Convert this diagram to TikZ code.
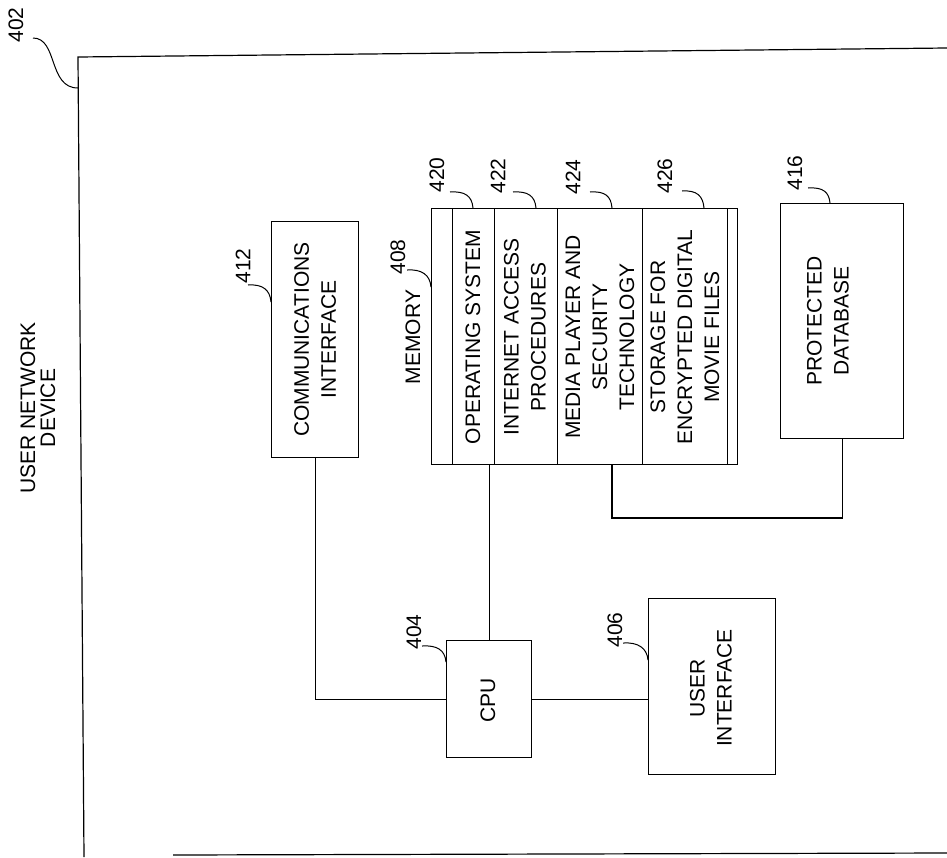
\documentclass[tikz,border=0pt]{standalone}
\usepackage{fontspec}
\setmainfont{Liberation Sans}
\begin{document}
\begin{tikzpicture}[x=1pt,y=-1pt,line width=1.2pt,
  box/.style={draw,inner sep=0pt,anchor=north west},
  txt/.style={rotate=90,align=center,inner sep=0pt,font=\fontsize{21}{27}\selectfont},
  num/.style={rotate=90,inner sep=0pt,font=\fontsize{21}{21}\selectfont},
  lead/.style={line width=1pt}]
\useasboundingbox (0,0) rectangle (947,857);
% outer frame 402
\coordinate (fTL) at (78,57);
\coordinate (fTR) at (947,48);
\coordinate (fBL) at (84,857);
\coordinate (bL) at (173,855);
\coordinate (bR) at (947,853);
\draw (fBL) -- (fTL) -- (fTR);
\draw (bL) -- (bR);
\node[txt,font=\fontsize{21}{20}\selectfont] (title) at (38,408) {USER NETWORK\\DEVICE};
% boxes
\node[box,minimum width=87pt,minimum height=236pt] (comm) at (271,221) {};
\node[box,minimum width=306pt,minimum height=256pt] (mem) at (431,208) {};
\node[box,minimum width=21pt,minimum height=256pt] (c0) at (431,208) {};
\node[box,minimum width=42pt,minimum height=256pt] (os) at (452,208) {};
\node[box,minimum width=63pt,minimum height=256pt] (ia) at (494,208) {};
\node[box,minimum width=85pt,minimum height=256pt] (mp) at (557,208) {};
\node[box,minimum width=85pt,minimum height=256pt] (st) at (642,208) {};
\node[box,minimum width=10pt,minimum height=256pt] (c5) at (727,208) {};
\node[box,minimum width=123pt,minimum height=235pt] (pd) at (780,203) {};
\node[box,minimum width=85pt,minimum height=117pt] (cpu) at (446,640) {};
\node[box,minimum width=127pt,minimum height=176pt] (ui) at (648,598) {};
% texts
\node[txt] (commT) at (comm.center) {COMMUNICATIONS\\INTERFACE};
\node[txt] (memT) at (413,337) {MEMORY};
\node[txt] (osT) at (473,337) {OPERATING SYSTEM};
\node[txt] (iaT) at (525,337) {INTERNET ACCESS\\PROCEDURES};
\node[txt] (mpT) at (600,337) {MEDIA PLAYER AND\\SECURITY\\TECHNOLOGY};
\node[txt] (stT) at (685,337) {STORAGE FOR\\ENCRYPTED DIGITAL\\MOVIE FILES};
\node[txt] (pdT) at (828,321) {PROTECTED\\DATABASE};
\node[txt] (cpuT) at (488,700) {CPU};
\node[txt] (uiT) at (711,688) {USER\\INTERFACE};
% reference numbers
\node[num] (n402) at (16,25) {402};
\node[num] (n412) at (243,266) {412};
\node[num] (n408) at (398,257) {408};
\node[num] (n420) at (437,175) {420};
\node[num] (n422) at (498,176) {422};
\node[num] (n424) at (573,177) {424};
\node[num] (n426) at (665,176) {426};
\node[num] (n416) at (795,173) {416};
\node[num] (n404) at (414,632) {404};
\node[num] (n406) at (615,630) {406};
% leader lines
\coordinate (s402) at (33,38);  \coordinate (e402) at (78,88);
\coordinate (s412) at (248,285); \coordinate (e412) at (271,302);
\coordinate (s408) at (407,270); \coordinate (e408) at (431,287);
\coordinate (s420) at (450,192); \coordinate (e420) at (473,208);
\coordinate (s422) at (513,192); \coordinate (e422) at (536,208);
\coordinate (s424) at (590,192); \coordinate (e424) at (612,208);
\coordinate (s426) at (682,191); \coordinate (e426) at (704,208);
\coordinate (s416) at (808,188); \coordinate (e416) at (830,203);
\coordinate (s404) at (422,646); \coordinate (e404) at (446,662);
\coordinate (s406) at (623,643); \coordinate (e406) at (648,660);
\draw[lead] (s402) .. controls (58,38) and (48,88) .. (e402);
\draw[lead] (s412) .. controls (263,284) and (270,290) .. (e412);
\draw[lead] (s408) .. controls (422,269) and (430,275) .. (e408);
\draw[lead] (s420) .. controls (465,191) and (472,196) .. (e420);
\draw[lead] (s422) .. controls (528,191) and (535,196) .. (e422);
\draw[lead] (s424) .. controls (605,191) and (611,196) .. (e424);
\draw[lead] (s426) .. controls (697,190) and (703,196) .. (e426);
\draw[lead] (s416) .. controls (823,187) and (829,192) .. (e416);
\draw[lead] (s404) .. controls (437,645) and (445,650) .. (e404);
\draw[lead] (s406) .. controls (638,642) and (647,648) .. (e406);
% connectors
\coordinate (j) at (612,518);
\draw (comm.south) |- (cpu.west);
\draw (mem.south -| cpu.north) -- (cpu.north);
\draw (cpu.east) -- (cpu.east -| ui.west);
\draw (mem.south -| j) -- (j) -| (pd.south);
\end{tikzpicture}
\end{document}
